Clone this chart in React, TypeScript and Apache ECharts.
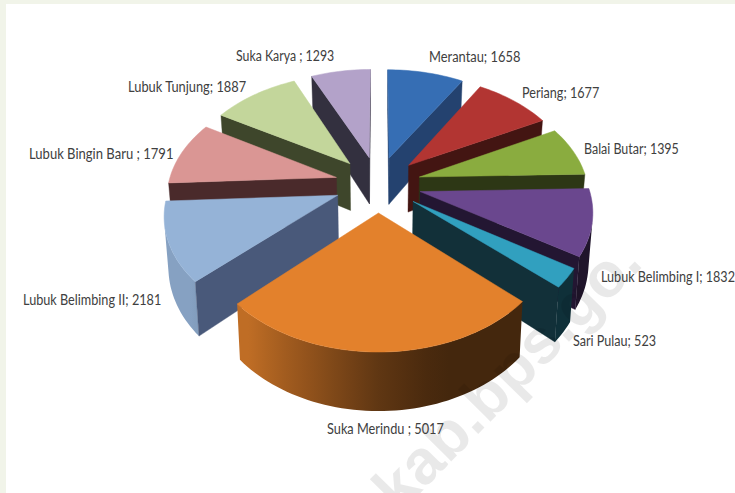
import React, { useEffect, useRef } from "react";
import * as echarts from "echarts";

const names = ["Merantau", "Periang", "Balai Butar", "Lubuk Belimbing I", "Sari Pulau", "Suka Merindu ", "Lubuk Belimbing II", "Lubuk Bingin Baru ", "Lubuk Tunjung", "Suka Karya "];
const values = [1658, 1677, 1395, 1832, 523, 5017, 2181, 1791, 1887, 1293];
const topColors = ["#366EB4", "#B23532", "#8AAC3F", "#6A478E", "#31A0BF", "#E3812C", "#95B3D7", "#DA9694", "#C3D69B", "#B3A2C9"];
const sideColors = ["#24426F", "#431512", "#2D3715", "#231632", "#123039", "#43250C", "#49597A", "#4A2A2B", "#3E462B", "#33303F"];
// left edge, vertical centre and horizontal squeeze of each label
const labelX = [429, 522, 584, 601, 573, 327, 23, 29, 128, 236];
const labelY = [56, 92, 148, 276, 340, 428, 299, 153, 86, 55];
const labelScale = [0.831, 0.816, 0.804, 0.813, 0.813, 0.823, 0.818, 0.842, 0.829, 0.795];

// projection of the exploded pie (unit radius)
const CX = 378, CY = 184, A = 168, B = 108.6, D = 6.7, EXPLODE = 0.257, HEIGHT = 48, BASE_SHRINK = 0.98;

const total = values.reduce((a, b) => a + b, 0);
let running = 0;
const rows = values.map((v, i) => {
  const start = (running / total) * Math.PI * 2;
  running += v;
  const end = (running / total) * Math.PI * 2;
  return [v, start, end, i];
});
rows.sort((a, b) => Math.cos((b[1] + b[2]) / 2) - Math.cos((a[1] + a[2]) / 2));

function project(X: number, Y: number) {
  const s = D / (D + Y);
  return { x: CX + A * X * s, y: CY - B * Y * s, s };
}
function hex(c: string) {
  return [1, 3, 5].map((i) => parseInt(c.slice(i, i + 2), 16));
}
function shade(c: string, f: number) {
  const [r, g, b] = hex(c);
  return `rgb(${Math.round(r * f)},${Math.round(g * f)},${Math.round(b * f)})`;
}
// light falls from the left: bright on the left of the wall, dark past the front
function wallLight(t: number) {
  const s = Math.sin(t);
  return s < 0 ? Math.min(0.9, 0.42 - s * 0.64) : Math.max(0.3, 0.42 - s * 0.4);
}

function renderItem(_params: any, api: any) {
  const start = api.value(1), end = api.value(2), idx = api.value(3);
  const mid = (start + end) / 2;
  const ox = EXPLODE * Math.sin(mid), oy = EXPLODE * Math.cos(mid);
  const top = (X: number, Y: number) => {
    const p = project(X, Y);
    return [p.x, p.y];
  };
  const bot = (X: number, Y: number) => {
    const p = project(X, Y);
    return [CX + (p.x - CX) * BASE_SHRINK, p.y + HEIGHT * p.s];
  };
  const N = Math.max(6, Math.ceil((end - start) / 0.03));
  const outline: number[][] = [[ox, oy]];
  const angs: number[] = [];
  for (let i = 0; i <= N; i++) {
    const t = start + ((end - start) * i) / N;
    angs.push(t);
    outline.push([ox + Math.sin(t), oy + Math.cos(t)]);
  }
  const isVisible = (a: number[], b: number[]) => {
    const pts = [top(a[0], a[1]), top(b[0], b[1]), bot(b[0], b[1]), bot(a[0], a[1])];
    let area = 0;
    for (let i = 0; i < 4; i++) {
      const p = pts[i], q = pts[(i + 1) % 4];
      area += p[0] * q[1] - q[0] * p[1];
    }
    return area < -0.01;
  };
  const children: any[] = [];
  const flat = (a: number[], b: number[], fill: string) => {
    if (!isVisible(a, b)) return;
    const pts = [top(a[0], a[1]), top(b[0], b[1]), bot(b[0], b[1]), bot(a[0], a[1])];
    children.push({ type: "polygon", shape: { points: pts }, style: { fill, stroke: fill, lineWidth: 0.4 } });
  };
  // outer curved wall, one polygon shaded by a horizontal gradient
  let first = -1, last = -1;
  for (let i = 1; i < outline.length - 1; i++) {
    if (isVisible(outline[i], outline[i + 1])) {
      if (first < 0) first = i;
      last = i + 1;
    }
  }
  if (first > 0) {
    const arc = outline.slice(first, last + 1);
    const ts = angs.slice(first - 1, last);
    const pts = [...arc.map((p) => top(p[0], p[1])), ...arc.slice().reverse().map((p) => bot(p[0], p[1]))];
    const xs = pts.map((p) => p[0]);
    const x0 = Math.min(...xs), x1 = Math.max(...xs);
    const step = Math.max(1, Math.floor(arc.length / 12));
    const stops: any[] = [];
    for (let i = 0; i < arc.length; i += step) {
      stops.push({
        offset: Math.min(1, Math.max(0, (top(arc[i][0], arc[i][1])[0] - x0) / Math.max(1, x1 - x0))),
        color: shade(topColors[idx], wallLight(ts[i])),
      });
    }
    stops.sort((p, q) => p.offset - q.offset);
    const fill = new echarts.graphic.LinearGradient(x0, 0, x1, 0, stops, true);
    children.push({ type: "polygon", shape: { points: pts }, style: { fill } });
  }
  flat(outline[0], outline[1], sideColors[idx]);
  flat(outline[outline.length - 1], outline[0], sideColors[idx]);
  children.push({
    type: "polygon",
    shape: { points: outline.map((p) => top(p[0], p[1])) },
    style: { fill: topColors[idx], stroke: topColors[idx], lineWidth: 0.5 },
  });
  return { type: "group", children };
}

export default function App() {
  const ref = useRef<HTMLDivElement>(null);
  useEffect(() => {
    document.body.style.margin = "0";
    const chart = echarts.init(ref.current!, undefined, { renderer: "svg" });
    const labels = names.map((n, i) => ({
      type: "text",
      x: labelX[i],
      y: labelY[i],
      scaleX: labelScale[i],
      z: 30,
      style: {
        text: `${n}; ${values[i]}`,
        font: "15.5px Lato",
        fill: "#404040",
        verticalAlign: "middle",
        textAlign: "left",
      },
    }));
    chart.setOption({
      animation: false,
      backgroundColor: "#ffffff",
      graphic: {
        elements: [
          { type: "rect", z: 0, shape: { x: 0, y: 0, width: 735, height: 4 }, style: { fill: "#F1F4E9" } },
          { type: "rect", z: 0, shape: { x: 0, y: 0, width: 6, height: 493 }, style: { fill: "#F1F4E9" } },
          ...labels,
          {
            type: "text",
            z: 20,
            x: 361,
            y: 477,
            rotation: (45.5 * Math.PI) / 180,
            silent: true,
            style: { text: "kab.bps.go.", font: "bold 63px 'Liberation Sans'", fill: "rgba(0,0,0,0.085)" },
          },
        ],
      },
      series: [
        {
          type: "custom",
          coordinateSystem: "none",
          z: 5,
          silent: true,
          renderItem,
          data: rows,
        },
      ],
    });
    return () => chart.dispose();
  }, []);
  return <div ref={ref} style={{ width: 735, height: 493 }} />;
}
